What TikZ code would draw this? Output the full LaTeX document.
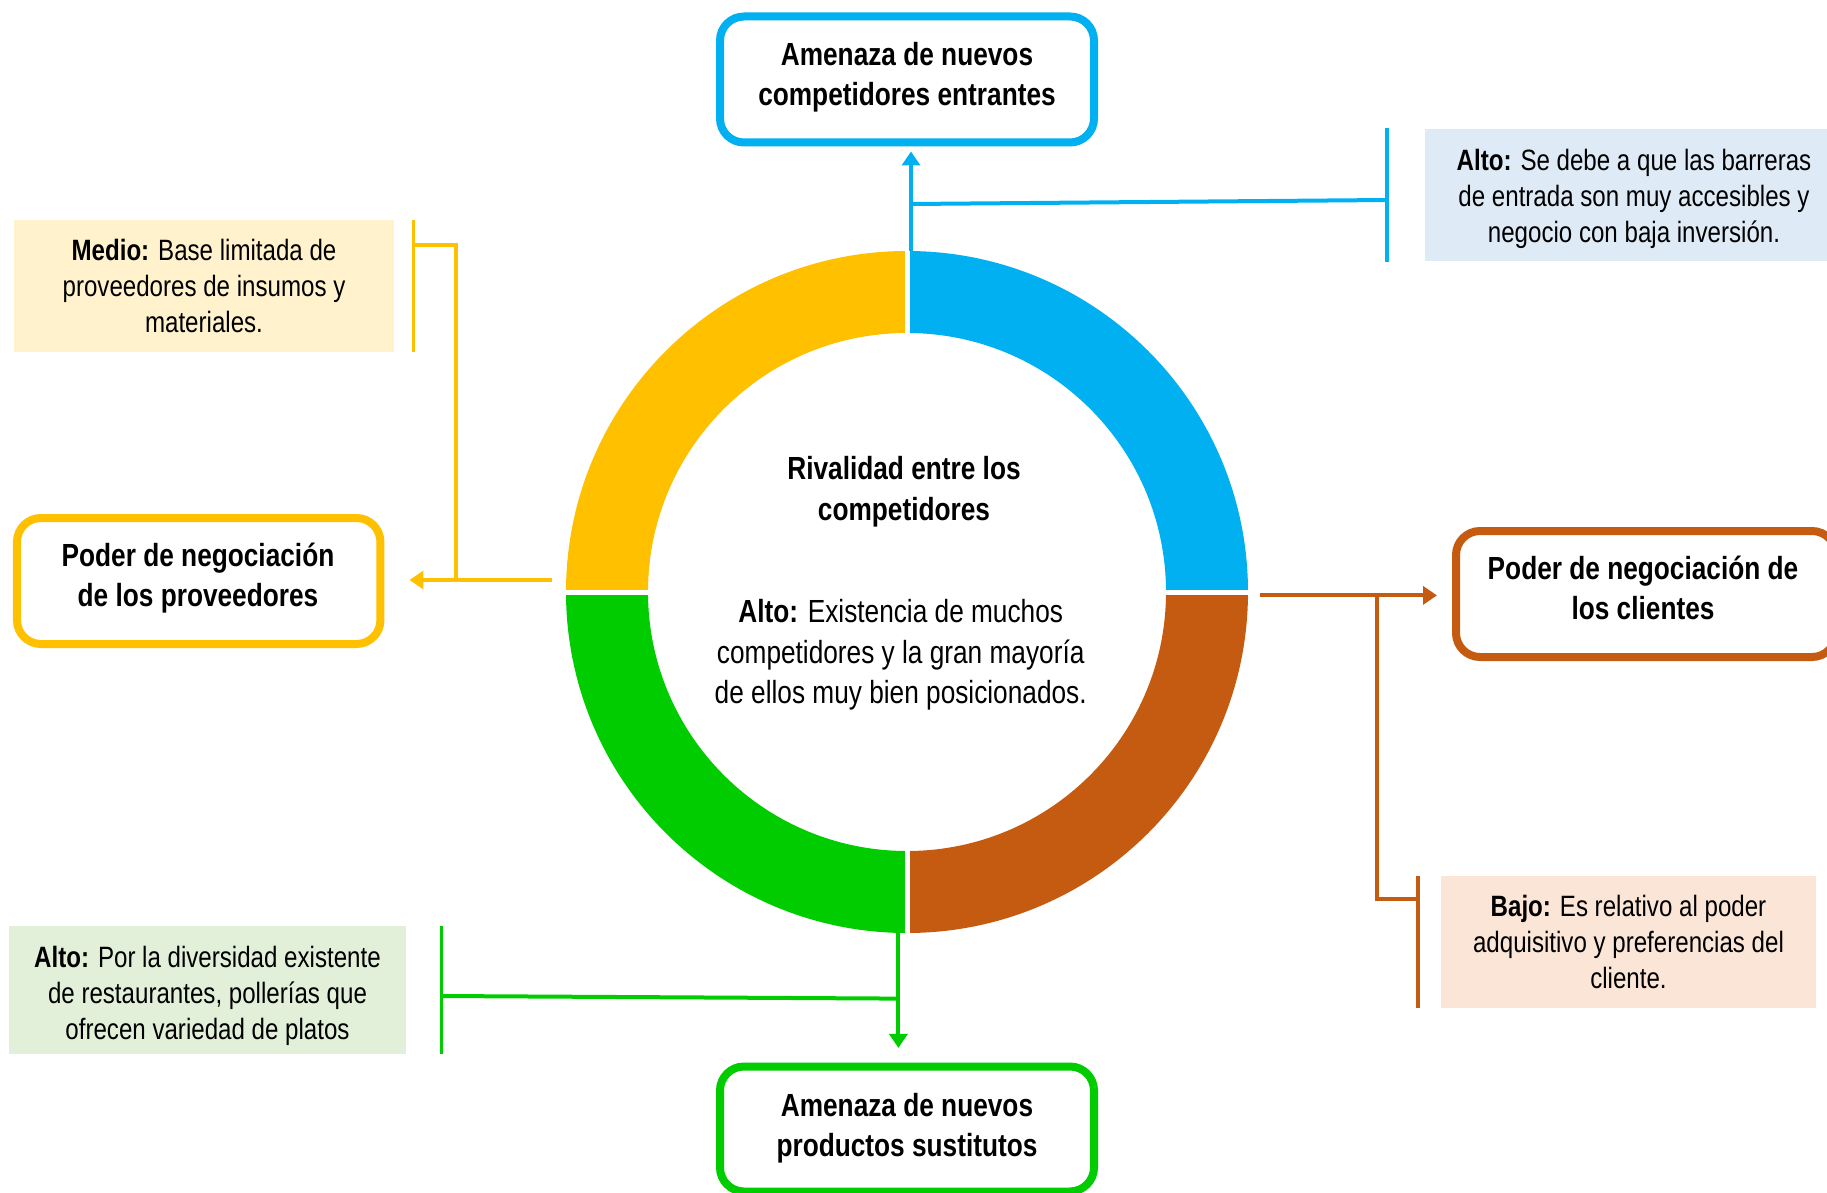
\documentclass[tikz,border=0pt]{standalone}
\usepackage{fontspec}
\setmainfont{Liberation Sans}[FakeStretch=0.82]
\usetikzlibrary{arrows.meta,calc}
\definecolor{cblue}{HTML}{00B0F0}
\definecolor{cyel}{HTML}{FFC000}
\definecolor{cgrn}{HTML}{00CC00}
\definecolor{cbrn}{HTML}{C55A11}
\definecolor{fblue}{HTML}{DEEBF7}
\definecolor{fyel}{HTML}{FFF2CC}
\definecolor{fbrn}{HTML}{FBE5D6}
\definecolor{fgrn}{HTML}{E2F0D9}
\begin{document}
\begin{tikzpicture}[x=0.5pt,y=-0.5pt,
  forcebox/.style={draw, line width=4pt, rounded corners=12pt, fill=white,
    minimum width=187pt, minimum height=63pt, inner sep=0pt},
  titletext/.style={align=center, font=\fontsize{16}{20}\selectfont\bfseries, inner sep=0pt},
  notebox/.style={align=center, font=\fontsize{14.7}{18}\selectfont, inner sep=0pt,
    minimum height=66pt},
  centertext/.style={align=center, font=\fontsize{16}{20.4}\selectfont, inner sep=0pt},
  conn/.style={line width=2pt},
  tip/.style={-{Triangle[length=7pt,width=9pt]}},
  barline/.style={line width=1.8pt}
]
\useasboundingbox (0,0) rectangle (1827,1193);
\clip (0,0) rectangle (1827,1193);

% ring
\coordinate (c) at (907,592);
\node[circle, minimum size=341pt, inner sep=0pt] (ring) at (c) {};
\fill[cblue] ($(c)+(-90:341)$) arc[start angle=-90, end angle=0, radius=341]
  -- ($(c)+(0:259)$) arc[start angle=0, end angle=-90, radius=259] -- cycle;
\fill[cbrn] ($(c)+(0:341)$) arc[start angle=0, end angle=90, radius=341]
  -- ($(c)+(90:259)$) arc[start angle=90, end angle=0, radius=259] -- cycle;
\fill[cgrn] ($(c)+(90:341)$) arc[start angle=90, end angle=180, radius=341]
  -- ($(c)+(180:259)$) arc[start angle=180, end angle=90, radius=259] -- cycle;
\fill[cyel] ($(c)+(180:341)$) arc[start angle=180, end angle=270, radius=341]
  -- ($(c)+(270:259)$) arc[start angle=270, end angle=180, radius=259] -- cycle;
\draw[white, line width=2.4pt] (907.7,245) -- (907.7,939);
\draw[white, line width=2.4pt] (560,592.5) -- (1254,592.5);

% centre texts
\node[centertext, font=\fontsize{16}{20.4}\selectfont\bfseries] (rivt) at (904,491.5)
  {Rivalidad entre los\\competidores};
\node[centertext] (rivd) at (900.7,654.8)
  {\textbf{Alto:} Existencia de muchos\\competidores y la gran mayoría\\de ellos muy bien posicionados.};

% force boxes
\node[forcebox, draw=cblue] (bxtop) at (907,79.5) {};
\node[titletext] (ttop) at (907,77.3) {Amenaza de nuevos\\competidores entrantes};
\node[forcebox, draw=cyel, minimum width=181.75pt] (bxyel) at (198.7,581) {};
\node[titletext] (tyel) at (198,577.9) {Poder de negociación\\de los proveedores};
\node[forcebox, draw=cbrn, minimum width=190pt] (bxbrn) at (1646,594) {};
\node[titletext] (tbrn) at (1643,588.4) {Poder de negociación de\\los clientes};
\node[forcebox, draw=cgrn, minimum height=62.5pt] (bxgrn) at (907,1129) {};
\node[titletext] (tgrn) at (907,1127.9) {Amenaza de nuevos\\productos sustitutos};

% notes
\node[notebox, fill=fblue, minimum width=209pt] (nblue) at (1634,195)
  {\raisebox{-2.3pt}[\height][\depth]{\begin{tabular}{@{}c@{}}\textbf{Alto:} Se debe a que las barreras\\de entrada son muy accesibles y\\negocio con baja inversión.\end{tabular}}};
\node[notebox, fill=fyel, minimum width=190pt] (nyel) at (204,286)
  {\textbf{Medio:} Base limitada de\\proveedores de insumos y\\materiales.};
\node[notebox, fill=fbrn, minimum width=187.5pt] (nbrn) at (1628.5,942)
  {\textbf{Bajo:} Es relativo al poder\\adquisitivo y preferencias del\\cliente.};
\node[notebox, fill=fgrn, minimum width=198.5pt, minimum height=64pt] (ngrn) at (207.5,990)
  {\raisebox{-2.9pt}[\height][\depth]{\begin{tabular}{@{}c@{}}\textbf{Alto:} Por la diversidad existente\\de restaurantes, pollerías que\\ofrecen variedad de platos\end{tabular}}};

% blue connector
\draw[conn, cblue, tip, shorten >=2.5pt] ([xshift=2pt]ring.north) -- ([xshift=2pt]bxtop.south);
\coordinate (bj) at (911,204);
\coordinate (bb1) at (1387,128);
\coordinate (bb2) at (1387,262);
\coordinate (bbm) at (1387,200);
\draw[barline, cblue] (bb1) -- (bb2);
\draw[conn, cblue] (bj) -- (bbm);

% yellow connector
\coordinate (ys) at (552,580);
\draw[conn, cyel, tip, shorten >=12.5pt] (ys) -- (bxyel.east |- ys);
\coordinate (yb1) at (413.6,220);
\coordinate (yb2) at (413.6,352);
\coordinate (ybm) at (413.6,244.7);
\coordinate (yj) at (455.6,580);
\draw[barline, cyel] (yb1) -- (yb2);
\draw[conn, cyel] (ybm) -| (yj);

% brown connector
\coordinate (rs) at (1259.6,595.4);
\draw[conn, cbrn, tip, shorten >=7.5pt] (rs) -- (bxbrn.west |- rs);
\coordinate (rj) at (1377.3,595.4);
\coordinate (rb1) at (1418,876);
\coordinate (rb2) at (1418,1008);
\coordinate (rbm) at (1418,899);
\draw[barline, cbrn] (rb1) -- (rb2);
\draw[conn, cbrn] (rj) |- (rbm);

% green connector
\draw[conn, cgrn, tip, shorten >=7.3pt] ([xshift=-4.3pt]ring.south) -- ([xshift=-4.3pt]bxgrn.north);
\coordinate (gj) at (898.4,998.6);
\coordinate (gb1) at (441.6,926);
\coordinate (gb2) at (441.6,1054);
\coordinate (gbm) at (441.6,996);
\draw[barline, cgrn] (gb1) -- (gb2);
\draw[conn, cgrn] (gbm) -- (gj);
\end{tikzpicture}
\end{document}
